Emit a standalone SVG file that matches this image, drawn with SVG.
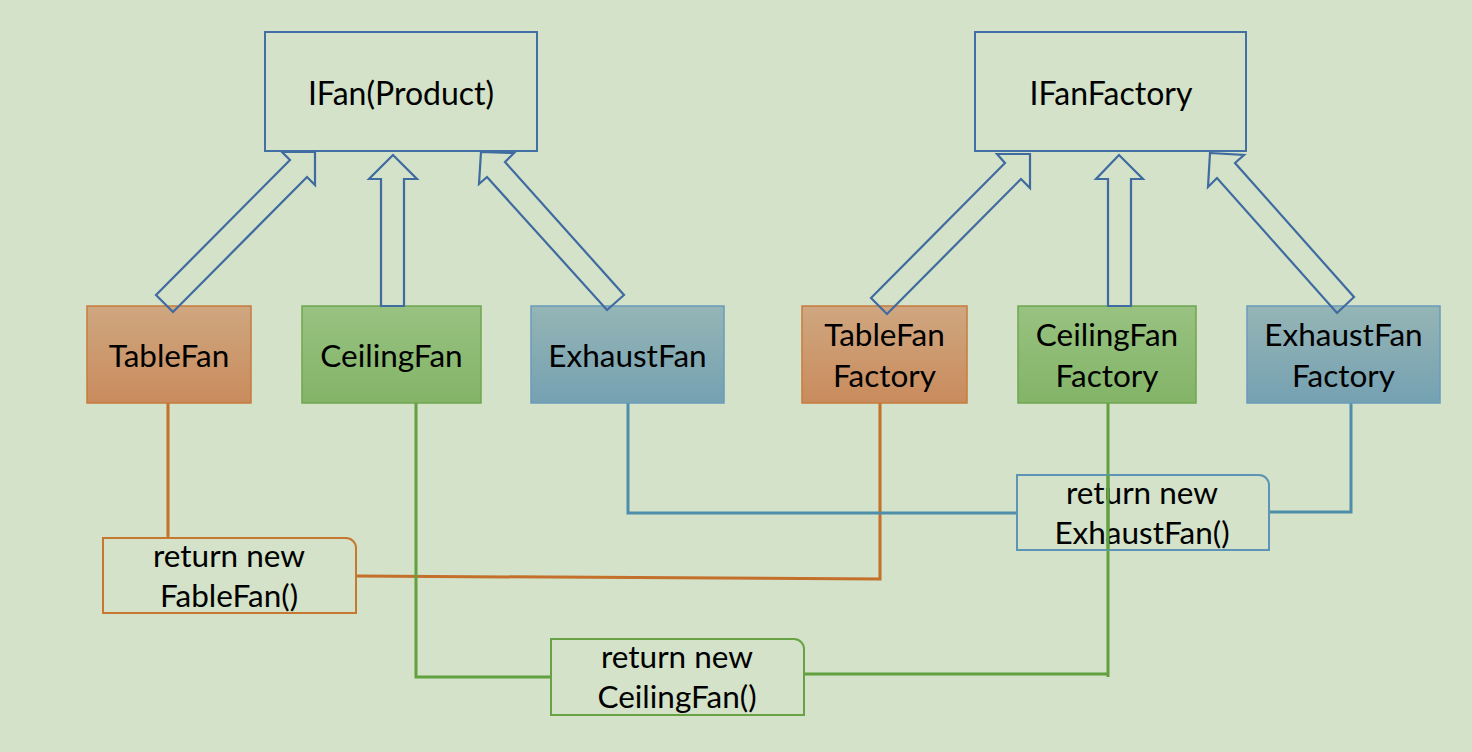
<svg xmlns="http://www.w3.org/2000/svg" width="1472" height="752" viewBox="0 0 1472 752">
<defs>
<linearGradient id="gO" x1="0" y1="0" x2="0" y2="1"><stop offset="0" stop-color="#CFA780"/><stop offset="1" stop-color="#C98B5C"/></linearGradient>
<linearGradient id="gG" x1="0" y1="0" x2="0" y2="1"><stop offset="0" stop-color="#98C281"/><stop offset="1" stop-color="#83B467"/></linearGradient>
<linearGradient id="gB" x1="0" y1="0" x2="0" y2="1"><stop offset="0" stop-color="#95B5B5"/><stop offset="1" stop-color="#75A1B2"/></linearGradient>
<style>
text{font-family:Lato,"Liberation Sans",sans-serif;fill:#000;text-anchor:middle}
.big{font-size:32px}
.lbl{font-size:31.5px}
.ret{font-size:31.5px}
.iface{fill:none;stroke:#4270A5;stroke-width:2}
.arr{fill:none;stroke:#3F6BA0;stroke-width:2.2;stroke-linejoin:miter}
.o{fill:url(#gO);stroke:#C77B3E;stroke-width:1.5}
.g{fill:url(#gG);stroke:#6FA64F;stroke-width:1.5}
.b{fill:url(#gB);stroke:#6A9CBB;stroke-width:1.5}
.co{fill:none;stroke:#C46F2A;stroke-width:3}
.cg{fill:none;stroke:#62A040;stroke-width:3}
.cb{fill:none;stroke:#4E8EAA;stroke-width:3}
.rbo{fill:none;stroke:#C77830;stroke-width:2}
.rbg{fill:none;stroke:#68A245;stroke-width:2}
.rbb{fill:none;stroke:#5C95B5;stroke-width:2}
</style>
</defs>
<rect width="1472" height="752" fill="#D3E2C8"/>

<g id="connectors">
<polyline class="co" points="168,403 168,538"/>
<polyline class="co" points="356,576 880,579 880,403"/>
<polyline class="cg" points="416,403 416,677 551,677"/>
<polyline class="cg" points="804,674 1108,674"/>
<polyline class="cg" points="1108,403 1108,677"/>
<polyline class="cb" points="628,403 628,513 1017,513"/>
<polyline class="cb" points="1269,512 1351,512 1351,403"/>
</g>

<g id="IFan">
<rect class="iface" x="265" y="32" width="272" height="119"/>
<text class="big" x="401" y="105">IFan(Product)</text>
</g>
<g id="IFanFactory">
<rect class="iface" x="975" y="32" width="271" height="119"/>
<text class="big" x="1111" y="105">IFanFactory</text>
</g>

<g id="TableFan">
<rect class="o" x="87" y="306" width="164" height="97"/>
<text class="lbl" x="169" y="367">TableFan</text>
</g>
<g id="CeilingFan">
<rect class="g" x="302" y="306" width="179" height="97"/>
<text class="lbl" x="391.5" y="367">CeilingFan</text>
</g>
<g id="ExhaustFan">
<rect class="b" x="531" y="306" width="193" height="97"/>
<text class="lbl" x="627.5" y="367">ExhaustFan</text>
</g>
<g id="TableFanFactory">
<rect class="o" x="802" y="306" width="165" height="97"/>
<text class="lbl" x="884.5" y="346">TableFan</text>
<text class="lbl" x="884.5" y="387">Factory</text>
</g>
<g id="CeilingFanFactory">
<rect class="g" x="1018" y="306" width="178" height="97"/>
<text class="lbl" x="1107" y="346">CeilingFan</text>
<text class="lbl" x="1107" y="387">Factory</text>
</g>
<g id="ExhaustFanFactory">
<rect class="b" x="1247" y="306" width="193" height="97"/>
<text class="lbl" x="1343.5" y="346">ExhaustFan</text>
<text class="lbl" x="1343.5" y="387">Factory</text>
</g>

<g id="arrows">
<polygon class="arr" points="156,295 290,160 282,152 315,152 315,185 307,177 173,312"/>
<polygon class="arr" points="381,306 381,179 369,179 393,155 417,179 404,179 404,306"/>
<polygon class="arr" points="481,152 514,153 505,162 624,295 607,310 487,177 479,184"/>
<polygon class="arr" points="871,298 1005,163 997,154 1030,154 1030,188 1021,179 887,314"/>
<polygon class="arr" points="1108,306 1108,179 1096,179 1119,155 1143,179 1131,179 1131,306"/>
<polygon class="arr" points="1210,153 1244,155 1235,163 1354,297 1337,313 1217,178 1208,187"/>
</g>

<g id="ReturnTableFan">
<path class="rbo" d="M103,538 H346 A10,10 0 0 1 356,548 V613 H103 Z"/>
<text class="ret" x="229" y="567">return new</text>
<text class="ret" x="229" y="607">FableFan()</text>
</g>
<g id="ReturnCeilingFan">
<path class="rbg" d="M551,639 H794 A10,10 0 0 1 804,649 V715 H551 Z"/>
<text class="ret" x="677" y="668">return new</text>
<text class="ret" x="677" y="708">CeilingFan()</text>
</g>
<g id="ReturnExhaustFan">
<path class="rbb" d="M1017,475 H1259 A10,10 0 0 1 1269,485 V550 H1017 Z"/>
<text class="ret" x="1142" y="504">return new</text>
<text class="ret" x="1142" y="544">ExhaustFan()</text>
</g>
<polyline class="cg" points="1108,475 1108,550"/>
</svg>
